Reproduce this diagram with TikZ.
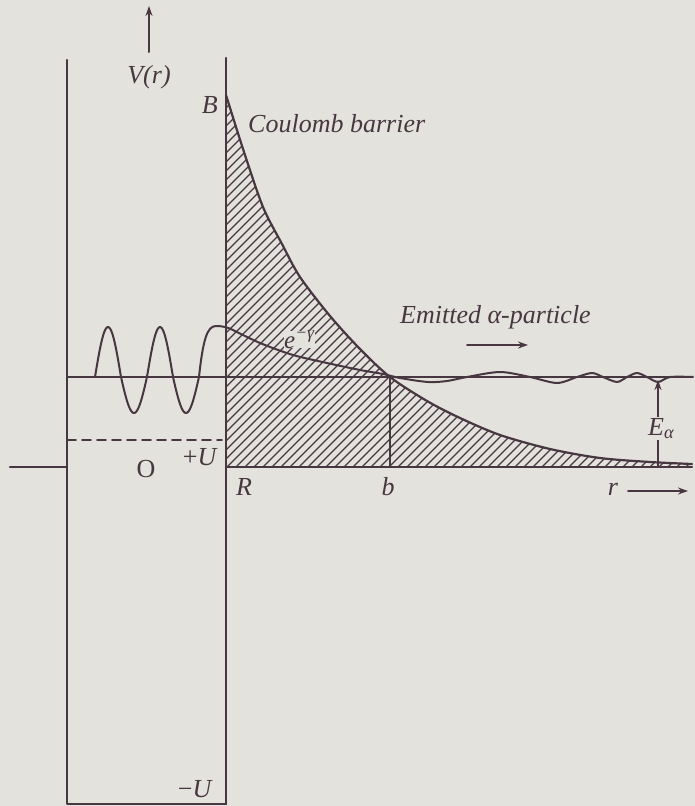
\documentclass[tikz,border=0pt]{standalone}
\usepackage{fontspec}
\setmainfont{Liberation Serif}
\usetikzlibrary{arrows.meta}
\definecolor{bg}{RGB}{228,226,220}
\definecolor{ink}{RGB}{70,55,65}
\begin{document}
\begin{tikzpicture}[x=1pt,y=-1pt,line cap=round,line join=round,
  every node/.style={text=ink,inner sep=0pt},
  lbl/.style={font=\fontsize{26}{30}\selectfont\itshape},
  rml/.style={font=\fontsize{26}{30}\selectfont},
  main/.style={draw=ink,line width=2.2pt},
  thin/.style={draw=ink,line width=1.8pt},
  hatchline/.style={draw=ink,line width=1.2pt},
  arr/.style={draw=ink,line width=2pt,-{Stealth[length=10pt,width=7pt]}}]
\fill[bg] (0,0) rectangle (695,806);
\useasboundingbox (0,0) rectangle (695,806);
% key points
\coordinate (TL) at (67,60);
\coordinate (BL) at (67,804);
\coordinate (BR) at (226,804);
\coordinate (TR) at (226,58);
\coordinate (R0) at (226,467);
\coordinate (L0) at (67,467);
\coordinate (Lend) at (10,467);
\coordinate (Rend) at (692,467);
\coordinate (EL) at (67,377);
\coordinate (ER) at (692,377);
\coordinate (bTop) at (390,377);
\coordinate (bBot) at (390,467);
\coordinate (DL) at (67,440);
\coordinate (DR) at (222,440);
\coordinate (Vb) at (149,52);
\coordinate (Vt) at (149,6);
\coordinate (Ma) at (467,345);
\coordinate (Mb) at (528,345);
\coordinate (ra) at (628,491);
\coordinate (rb) at (688,491);
\coordinate (EaB) at (658,466);
\coordinate (EaT) at (658,380);
% hatched barrier
\begin{scope}
\clip (226,467) -- (226,95) -- plot[smooth] coordinates {(226,95) (244,152) (263,207) (282,244) (300,277) (330,316) (360,349) (390,377) (427,401) (460,418) (500,435) (550,449) (600,458) (650,462) (692,464)} -- (692,467) -- cycle;
\foreach \x in {-160,-151,...,700} \draw[hatchline] (\x,467) -- ++(400,-400);
\end{scope}
% axes and box
\draw[main] (TL) -- (BL) -- (BR);
\draw[main] (TR) -- (BR);
\draw[main] (Lend) -- (L0);
\draw[main] (R0) -- (Rend);
\draw[thin] (EL) -- (ER);
\draw[thin] (bTop) -- (bBot);
\draw[thin,dash pattern=on 9pt off 6pt] (DL) -- (DR);
% Coulomb curve
\draw[main] plot[smooth] coordinates {(226,95) (244,152) (263,207) (282,244) (300,277) (330,316) (360,349) (390,377) (427,401) (460,418) (500,435) (550,449) (600,458) (650,462) (692,464)};
% wave function
\draw[thin,line width=2pt] plot[domain=95:199,samples=90] (\x,{377-50*max(sin(6.923*(\x-95)),0)-36*min(sin(6.923*(\x-95)),0)})
  .. controls (203,340) and (207,326) .. (216,326)
  .. controls (222,326) and (227,327) .. (233,330)
  -- plot[smooth] coordinates {(233,330) (260,343) (293,355) (327,363) (360,370) (383,374) (400,378) (428,382) (447,381) (467,377) (500,372) (530,377) (557,383) (577,377) (592,373) (603,377) (617,382) (627,377) (637,373) (647,377) (658,382) (670,377) (693,377)};
% arrows
\draw[arr] (Vb) -- (Vt);
\draw[arr] (Ma) -- (Mb);
\draw[arr] (ra) -- (rb);
\draw[arr,line width=1.5pt] (EaB) -- (EaT);
% labels
\node[lbl,anchor=base] (Vr) at (149,83) {V(r)};
\node[lbl,anchor=base east] (Bl) at (218,113) {B};
\node[lbl,anchor=base west] (cb) at (248,132) {Coulomb barrier};
\node[lbl,anchor=base west] (em) at (400,323) {Emitted α-particle};
\node[font=\fontsize{25}{28}\selectfont\itshape,anchor=base west,fill=bg,inner sep=0pt] (eg) at (284,348) {e\textsuperscript{−γ}};
\node[lbl,anchor=base west,fill=bg,inner sep=1pt] (Ea) at (647,435) {E\textsubscript{α}};
\node[rml,anchor=base] (O) at (146,477) {O};
\node[rml,anchor=base east] (pU) at (218,465) {+\textit{U}};
\node[rml,anchor=base east] (mU) at (213,797) {−\textit{U}};
\node[lbl,anchor=base west] (Rl) at (236,495) {R};
\node[lbl,anchor=base] (bl) at (388,495) {b};
\node[lbl,anchor=base] (rl) at (613,495) {r};
\end{tikzpicture}
\end{document}
